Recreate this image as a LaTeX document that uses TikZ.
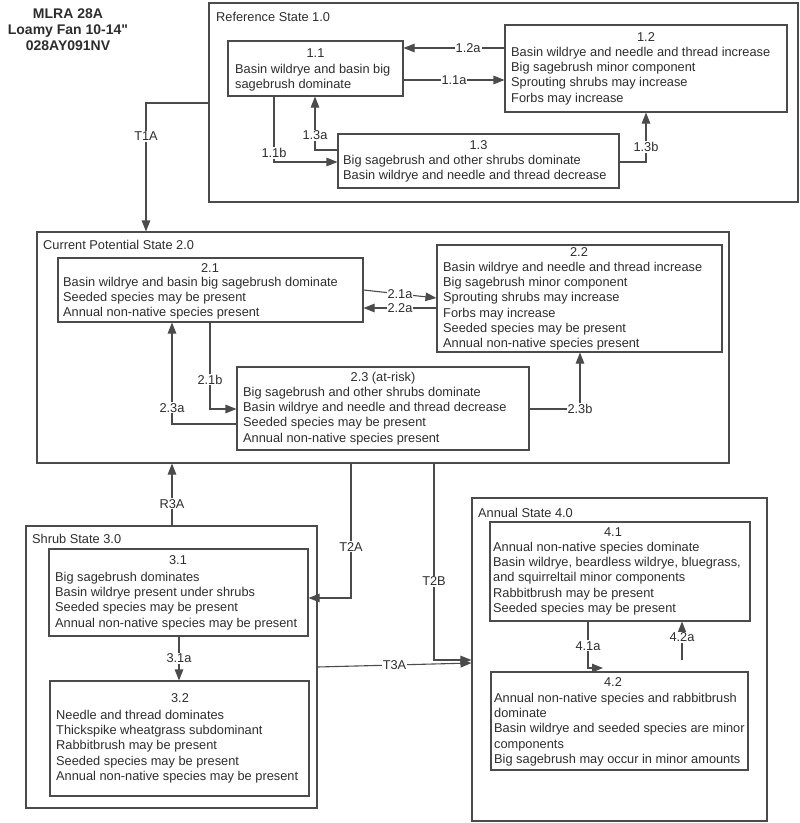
\documentclass[tikz,border=0pt]{standalone}
\usepackage{fontspec}
\setmainfont{Liberation Sans}
\newfontfamily\titlefont{Liberation Sans}
\usetikzlibrary{arrows.meta,fit}
\definecolor{linec}{RGB}{75,75,75}
\definecolor{txtc}{RGB}{45,45,45}
\newcommand\myfs{\fontsize{12.8}{15.2}\selectfont}
\tikzset{
 box/.style={draw=linec, line width=1.1pt, inner sep=0pt, rectangle},
 txt/.style={anchor=north west, align=left, inner sep=0pt, text=txtc, font=\myfs},
 hdr/.style={anchor=north, inner sep=0pt, text=txtc, font=\myfs},
 lbl/.style={fill=white, inner sep=1pt, text=txtc, font=\myfs},
 conn/.style={draw=linec, line width=1.1pt, -{Triangle[length=11pt,width=8.5pt]}},
}
\begin{document}
\begin{tikzpicture}[x=1pt,y=-1pt]
\useasboundingbox (0,0) rectangle (800,823);
% title
\node[anchor=north, align=center, inner sep=0pt, text=txtc, font=\titlefont\fontsize{14}{16}\selectfont\bfseries] (title) at (68,8.5) {MLRA 28A\\Loamy Fan 10-14"\\028AY091NV};
% state boxes
\node[box, fit={(209,3) (798,202)}] (s1) {};
\node[box, fit={(37,232) (729,463)}] (s2) {};
\node[box, fit={(26,526) (317,808)}] (s3) {};
\node[box, fit={(472,498) (767,821)}] (s4) {};
\node[txt] (sl1) at (216,12) {Reference State 1.0};
\node[txt] (sl2) at (43,240) {Current Potential State 2.0};
\node[txt] (sl3) at (32,534) {Shrub State 3.0};
\node[txt] (sl4) at (478,508) {Annual State 4.0};
% phase boxes
\node[box, fit={(228,41) (403,96)}] (p11) {};
\node[box, fit={(505,25) (787,112)}] (p12) {};
\node[box, fit={(338,134) (619,188)}] (p13) {};
\node[box, fit={(58,258) (363,322)}] (p21) {};
\node[box, fit={(437,245) (722,352)}] (p22) {};
\node[box, fit={(237,367) (529,450)}] (p23) {};
\node[box, fit={(49,549) (308,636)}] (p31) {};
\node[box, fit={(50,681) (309,796)}] (p32) {};
\node[box, fit={(490,522) (750,621)}] (p41) {};
\node[box, fit={(491,672) (748,770)}] (p42) {};
% texts
\node[hdr] (h11) at (315.5,48) {1.1};
\node[txt] (t11) at (235,64) {Basin wildrye and basin big\\sagebrush dominate};
\node[hdr] (h12) at (646,32) {1.2};
\node[txt] (t12) at (511,47) {Basin wildrye and needle and thread increase\\Big sagebrush minor component\\Sprouting shrubs may increase\\Forbs may increase};
\node[hdr] (h13) at (478.5,140) {1.3};
\node[txt] (t13) at (343,155) {Big sagebrush and other shrubs dominate\\Basin wildrye and needle and thread decrease};
\node[hdr] (h21) at (210,263) {2.1};
\node[txt] (t21) at (63,277) {Basin wildrye and basin big sagebrush dominate\\Seeded species may be present\\Annual non-native species present};
\node[hdr] (h22) at (579,247) {2.2};
\node[txt] (t22) at (443,262) {Basin wildrye and needle and thread increase\\Big sagebrush minor component\\Sprouting shrubs may increase\\Forbs may increase\\Seeded species may be present\\Annual non-native species present};
\node[hdr] (h23) at (383,372) {2.3 (at-risk)};
\node[txt] (t23) at (243,387) {Big sagebrush and other shrubs dominate\\Basin wildrye and needle and thread decrease\\Seeded species may be present\\Annual non-native species present};
\node[hdr] (h31) at (178,555) {3.1};
\node[txt] (t31) at (55,572) {Big sagebrush dominates\\Basin wildrye present under shrubs\\Seeded species may be present\\Annual non-native species may be present};
\node[hdr] (h32) at (180,693) {3.2};
\node[txt] (t32) at (56,710) {Needle and thread dominates\\Thickspike wheatgrass subdominant\\Rabbitbrush may be present\\Seeded species may be present\\Annual non-native species may be present};
\node[hdr] (h41) at (613,527) {4.1};
\node[txt] (t41) at (493,542) {Annual non-native species dominate\\Basin wildrye, beardless wildrye, bluegrass,\\and squirreltail minor components\\Rabbitbrush may be present\\Seeded species may be present};
\node[hdr] (h42) at (613,677) {4.2};
\node[txt] (t42) at (494,693) {Annual non-native species and rabbitbrush\\dominate\\Basin wildrye and seeded species are minor\\components\\Big sagebrush may occur in minor amounts};
% connectors state 1
\draw[conn] (p12.west |- 0,48) -- node[lbl,pos=0.36]{1.2a} (p11.east |- 0,48);
\draw[conn] (p11.east |- 0,80) -- node[lbl]{1.1a} (p12.west |- 0,80);
\draw[conn] (p11.south -| 274,0) |- node[lbl,pos=0.43]{1.1b} (p13.west |- 0,162);
\draw[conn] (p13.west |- 0,150) -| node[lbl,pos=0.64]{1.3a} (p11.south -| 315,0);
\draw[conn] (p13.east |- 0,162) -| node[lbl,pos=0.65]{1.3b} (p12.south -| 646,0);
\draw[conn] (s1.west |- 0,103) -| node[lbl,pos=0.63]{T1A} (s2.north -| 146,0);
% state 2
\draw[conn] (p21.east |- 0,290) -- node[lbl]{2.1a} (p22.west |- 0,298);
\draw[conn] (p22.west |- 0,308) -- node[lbl]{2.2a} (p21.east |- 0,308);
\draw[conn] (p21.south -| 210,0) |- node[lbl,pos=0.33]{2.1b} (p23.west |- 0,409);
\draw[conn] (p23.west |- 0,424) -| node[lbl,pos=0.58]{2.3a} (p21.south -| 172,0);
\draw[conn] (p23.east |- 0,409) -| node[lbl,pos=0.5]{2.3b} (p22.south -| 580,0);
% between states
\draw[conn] (s3.north -| 172,0) -- node[lbl,pos=0.35]{R3A} (s2.south -| 172,0);
\draw[conn] (s2.south -| 351,0) |- node[lbl,pos=0.31]{T2A} (p31.east |- 0,598);
\draw[conn] (s2.south -| 434,0) |- node[lbl,pos=0.3]{T2B} (s4.west |- 0,660);
\draw[conn] (s3.east |- 0,667) -- node[lbl]{T3A} (s4.west |- 0,663);
% state 3
\draw[conn] (p31.south -| 179,0) -- node[lbl]{3.1a} (p32.north -| 179,0);
% state 4
\coordinate (e41) at (603,668);
\coordinate (b42) at (682,660);
\draw[conn] (p41.south -| 588,0) |- node[lbl,pos=0.26]{4.1a} (e41);
\draw[conn] (b42) -- node[lbl,pos=0.59]{4.2a} (p41.south -| 682,0);
\end{tikzpicture}
\end{document}
